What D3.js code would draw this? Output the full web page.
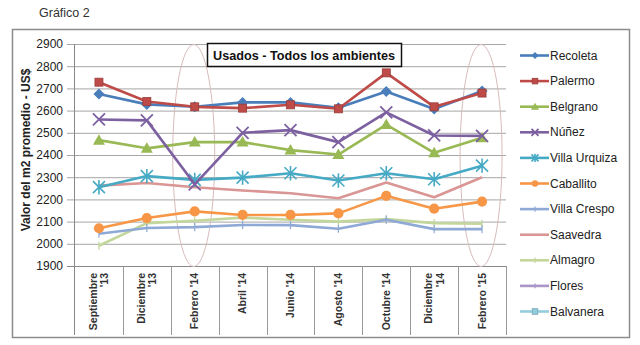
<!DOCTYPE html>
<html><head><meta charset="utf-8">
<script src="https://cdn.jsdelivr.net/npm/d3@7"></script>
<style>
body{margin:0;background:#fff;}
svg{display:block;}
text{font-family:"Liberation Sans",Arial,sans-serif;}
</style></head>
<body><svg id="c" width="640" height="345"></svg>
<script>
const categories = ["Septiembre\n'13","Diciembre\n'13","Febrero '14","Abril '14","Junio '14","Agosto '14","Octubre '14","Diciembre\n'14","Febrero '15"];
const yTicks = [1900,2000,2100,2200,2300,2400,2500,2600,2700,2800,2900];
const seriesNames = ["Recoleta","Palermo","Belgrano","Núñez","Villa Urquiza","Caballito","Villa Crespo","Saavedra","Almagro","Flores","Balvanera"];
const recoleta    = [2675,2628,2617,2637,2637,2613,2686,2607,2688];
const palermo     = [2728,2641,2617,2611,2626,2608,2770,2617,2679];
const belgrano    = [2467,2430,2458,2458,2422,2402,2537,2410,2478];
const nunez       = [2560,2556,2268,2500,2512,2458,2592,2488,2486];
const villaUrquiza= [2255,2305,2288,2298,2318,2285,2318,2291,2352];
const caballito   = [2070,2116,2146,2130,2130,2137,2216,2158,2190];
const villaCrespo = [2045,2071,2075,2085,2084,2068,2108,2066,2066];
const saavedra    = [2262,2274,2255,2240,2228,2205,2276,2210,2300];
const almagro     = [1991,2093,2104,2118,2108,2100,2111,2093,2090];
const flores      = [];
const balvanera   = [];
const seriesValues = [recoleta,palermo,belgrano,nunez,villaUrquiza,caballito,villaCrespo,saavedra,almagro,flores,balvanera];
const colors  = ["#4a7ebb","#be4b48","#98b954","#7d60a0","#46aac5","#f79646","#8fa9d6","#d99694","#c3d69b","#a995c6","#93cddd"];
const markers = ["diamond","square","triangle","x","star","circle","tick","none","tick","plus","square"];

const svg = d3.select("#c");
const x = d3.scaleBand().domain(categories).range([75,506]);
const y = d3.scaleLinear().domain([1900,2900]).range([266,44]);

// outer frame
svg.append("rect").attr("x",12.5).attr("y",29.5).attr("width",617).attr("height",308)
  .attr("fill","#fff").attr("stroke","#8c8c8c").attr("stroke-width",1.5);
svg.append("text").attr("x",39).attr("y",17).attr("font-size",12.5).attr("fill","#333").text("Gráfico 2");

// gridlines
svg.append("g").selectAll("line").data(yTicks).join("line")
  .attr("x1",67).attr("x2",506).attr("y1",d=>y(d)+0.5).attr("y2",d=>y(d)+0.5)
  .attr("stroke",(d,i)=>i===0?"#888":"#a6a6a6").attr("stroke-width",1);
// left axis line
svg.append("line").attr("x1",74.5).attr("x2",74.5).attr("y1",y(2900)).attr("y2",335).attr("stroke","#888");
// y axis
const yAxis = d3.axisLeft(y).tickValues(yTicks).tickSize(0).tickPadding(0).tickFormat(d3.format("d"));
const ya = svg.append("g").attr("transform","translate(63,0)").call(yAxis);
ya.select(".domain").remove();
ya.selectAll("text").attr("font-size",12).attr("fill","#222").attr("font-family","'Liberation Sans',Arial,sans-serif");

// category separators
const bounds = categories.map(c=>x(c)).concat([x.range()[1]]);
svg.append("g").selectAll("line").data(bounds.slice(1)).join("line")
  .attr("x1",d=>Math.round(d)+0.5).attr("x2",d=>Math.round(d)+0.5).attr("y1",266).attr("y2",335)
  .attr("stroke","#999");

// category labels
const xl = svg.append("g");
categories.forEach(c=>{
  const cx = x(c)+x.bandwidth()/2;
  const lines = c.split("\n");
  const t = xl.append("text").attr("transform",`translate(${cx},273) rotate(-90)`)
    .attr("text-anchor","end").attr("font-size",10.5).attr("font-weight","bold").attr("fill","#333");
  lines.forEach((ln,i)=>{
    const off = lines.length===1 ? 0.35 : (i===0 ? -0.2 : 1.0);
    t.append("tspan").attr("x",0).attr("dy", i===0 ? off+"em" : "1.1em").text(ln);
  });
});

// y axis title
svg.append("text").attr("transform","translate(30,150) rotate(-90)").attr("text-anchor","middle")
  .attr("font-size",12).attr("font-weight","bold").attr("fill","#222").text("Valor del m2 promedio - US$");

// ellipses
[categories[2],categories[8]].forEach(c=>{
  svg.append("ellipse").attr("cx",x(c)+x.bandwidth()/2-1).attr("cy",155.5).attr("rx",21).attr("ry",111)
    .attr("fill","none").attr("stroke","#d8bcbc").attr("stroke-width",1);
});

function drawMarker(g,type,color,size){
  const s=size;
  if(type==="diamond") g.append("path").attr("d",`M0,${-s}L${s},0L0,${s}L${-s},0Z`).attr("fill",color);
  else if(type==="square") g.append("rect").attr("x",-s*0.8).attr("y",-s*0.8).attr("width",s*1.6).attr("height",s*1.6).attr("fill",color).attr("stroke",d3.color(color).darker(0.6)).attr("stroke-width",0.8);
  else if(type==="triangle") g.append("path").attr("d",`M0,${-s}L${s},${s*0.75}L${-s},${s*0.75}Z`).attr("fill",color);
  else if(type==="circle") g.append("circle").attr("r",s*0.85).attr("fill",color);
  else if(type==="x") g.append("path").attr("d",`M${-s},${-s}L${s},${s}M${-s},${s}L${s},${-s}`).attr("stroke",color).attr("stroke-width",1.8);
  else if(type==="star") g.append("path").attr("d",`M${-s},${-s}L${s},${s}M${-s},${s}L${s},${-s}M0,${-s*1.2}L0,${s*1.2}`).attr("stroke",color).attr("stroke-width",1.6);
  else if(type==="tick") g.append("path").attr("d",`M0,${-s*0.9}L0,${s*0.9}`).attr("stroke",color).attr("stroke-width",1.2);
  else if(type==="plus") g.append("path").attr("d",`M0,${-s*0.8}L0,${s*0.8}M${-s*0.8},0L${s*0.8},0`).attr("stroke",color).attr("stroke-width",1.2);
}

// series (draw in reverse so Recoleta/Palermo on top)
const line = d3.line().x((d,i)=>x(categories[i])+x.bandwidth()/2).y(d=>y(d));
const order = [8,6,7,5,4,2,3,0,1];
order.forEach(si=>{
  const vals = seriesValues[si];
  if(!vals.length) return;
  const g = svg.append("g");
  g.append("path").attr("d",line(vals)).attr("fill","none").attr("stroke",colors[si]).attr("stroke-width",2.6).attr("stroke-linejoin","round");
  const sz = {diamond:5.5,square:5,triangle:6,x:6,star:6,circle:6,tick:4.5,plus:4,none:0}[markers[si]];
  vals.forEach((v,i)=>{
    const mg = g.append("g").attr("transform",`translate(${x(categories[i])+x.bandwidth()/2},${y(v)})`);
    drawMarker(mg,markers[si],colors[si],sz);
  });
});

// title box
svg.append("rect").attr("x",207.5).attr("y",43.5).attr("width",194).attr("height",23)
  .attr("fill","#fff").attr("stroke","#111").attr("stroke-width",1.5);
svg.append("text").attr("x",304).attr("y",60).attr("text-anchor","middle").attr("font-size",13)
  .attr("font-weight","bold").attr("fill","#111").attr("textLength",182).attr("lengthAdjust","spacingAndGlyphs")
  .text("Usados - Todos los ambientes");

// legend
const lg = svg.append("g");
seriesNames.forEach((n,i)=>{
  const ly = 55.5 + i*25.6;
  const g = lg.append("g").attr("transform",`translate(0,${ly})`);
  g.append("line").attr("x1",520).attr("x2",549).attr("y1",0).attr("y2",0).attr("stroke",colors[i]).attr("stroke-width",2.6);
  const mg = g.append("g").attr("transform","translate(535,0)");
  const sz = {diamond:3.5,square:3.5,triangle:4,x:3.5,star:3.5,circle:3.8,tick:3,plus:3,none:0}[markers[i]];
  drawMarker(mg,markers[i],colors[i],sz);
  g.append("text").attr("x",550).attr("y",4).attr("font-size",12).attr("fill","#222")
    .attr("font-family","'Liberation Sans Narrow','DejaVu Sans Condensed',sans-serif").text(n);
});
</script></body></html>
